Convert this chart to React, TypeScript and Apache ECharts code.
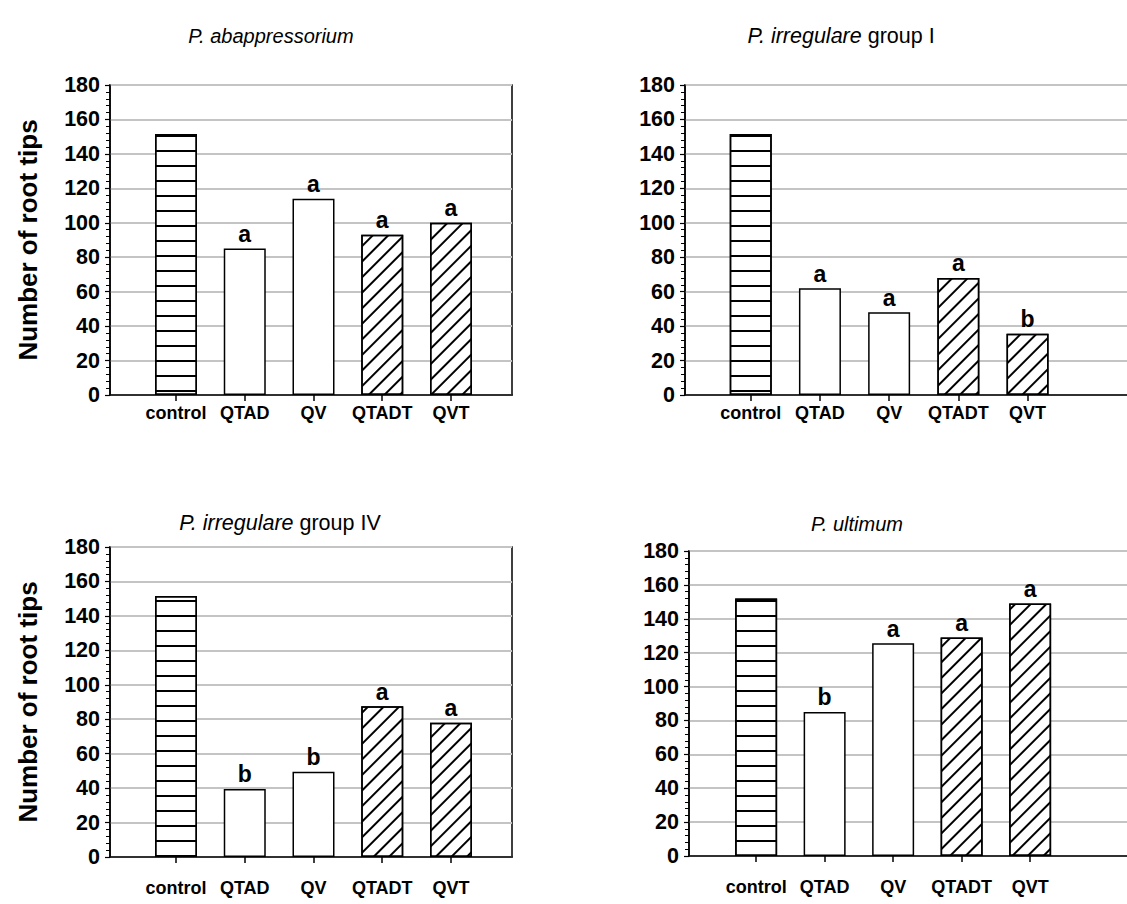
import React, { useEffect, useRef } from "react";
import * as echarts from "echarts";

const categories = ["control", "QTAD", "QV", "QTADT", "QVT"];
const positions = [1, 2, 3, 4, 5];
const valuesAbap = [151.5, 85, 114, 93, 100];
const valuesIrrI = [151.5, 62, 48, 68, 35.5];
const valuesIrrIV = [151.5, 39.5, 49.5, 87.5, 78];
const valuesUlt = [152, 85, 125.5, 129, 149];
const lettersAbap = ["", "a", "a", "a", "a"];
const lettersIrrI = ["", "a", "a", "a", "b"];
const lettersIrrIV = ["", "b", "b", "a", "a"];
const lettersUlt = ["", "b", "a", "a", "a"];
const patterns = ["horizontal", "none", "none", "diagonal", "diagonal"];
const yMin = 0;
const yMax = 180;
const yInterval = 20;

const FONT = "'Liberation Sans', Arial, sans-serif";

const hDecal = {
  symbol: "rect",
  symbolSize: 1,
  color: "#000",
  backgroundColor: "#fff",
  dashArrayX: [1, 0],
  dashArrayY: [1.3, 12.1],
  rotation: 0,
};
const dDecal = {
  symbol: "rect",
  symbolSize: 1,
  color: "#000",
  backgroundColor: "#fff",
  dashArrayX: [1, 0],
  dashArrayY: [1.1, 8.3],
  rotation: -Math.PI / 4,
};

const panels = [
  { values: valuesAbap, letters: lettersAbap, grid: { left: 110, top: 85, width: 402, height: 310 }, xMin: 0.04, spacing: 68.75, yName: true, labelMargin: 9 },
  { values: valuesIrrI, letters: lettersIrrI, grid: { left: 685, top: 85, width: 480, height: 310 }, xMin: 0.05, spacing: 69.2, yName: false, labelMargin: 9 },
  { values: valuesIrrIV, letters: lettersIrrIV, grid: { left: 110, top: 547, width: 402, height: 310 }, xMin: 0.04, spacing: 68.75, yName: true, labelMargin: 22 },
  { values: valuesUlt, letters: lettersUlt, grid: { left: 689, top: 551, width: 480, height: 305 }, xMin: 0.02, spacing: 68.5, yName: false, labelMargin: 22 },
];

export default function App() {
  const ref = useRef<HTMLDivElement>(null);
  useEffect(() => {
    if (!ref.current) return;
    const chart = echarts.init(ref.current, null, { renderer: "svg" });
    const grids: any[] = [];
    const xAxes: any[] = [];
    const yAxes: any[] = [];
    const series: any[] = [];
    panels.forEach((p, i) => {
      grids.push({
        ...p.grid,
        outerBoundsMode: "none",
        containLabel: false,
        show: true,
        borderColor: "#000",
        borderWidth: 1.5,
        backgroundColor: "transparent",
      });
      xAxes.push({
        type: "value",
        gridIndex: i,
        min: p.xMin,
        max: p.xMin + p.grid.width / p.spacing,
        splitLine: { show: false },
        axisLine: { show: true, onZero: false, lineStyle: { color: "#000", width: 1.5 } },
        axisTick: { show: true, customValues: positions, length: 6, lineStyle: { color: "#000", width: 1.5 } },
        axisLabel: {
          customValues: positions,
          formatter: (v: number) => categories[Math.round(v) - 1] ?? "",
          color: "#000",
          fontWeight: "bold",
          fontSize: 18,
          fontFamily: FONT,
          margin: p.labelMargin,
        },
      });
      yAxes.push({
        type: "value",
        gridIndex: i,
        min: yMin,
        max: yMax,
        interval: yInterval,
        name: p.yName ? "Number of root tips" : "",
        nameLocation: "middle",
        nameGap: 69,
        nameTextStyle: { color: "#000", fontWeight: "bold", fontSize: 26, fontFamily: FONT },
        axisLine: { show: true, lineStyle: { color: "#000", width: 1.5 } },
        axisTick: { show: true, length: 5, lineStyle: { color: "#000", width: 1.2 } },
        minorTick: { show: true, splitNumber: 5, length: 4, lineStyle: { color: "#000", width: 1 } },
        splitLine: { show: true, lineStyle: { color: "#c4c4c4", width: 2 } },
        axisLabel: { color: "#000", fontWeight: "bold", fontSize: 21.5, fontFamily: FONT, margin: 10 },
      });
      series.push({
        type: "bar",
        xAxisIndex: i,
        yAxisIndex: i,
        barWidth: 42,
        data: p.values.map((v, k) => ({
          value: [positions[k], v],
          itemStyle: {
            color: "#fff",
            borderColor: "#000",
            borderWidth: 1.5,
            decal: patterns[k] === "horizontal" ? hDecal : patterns[k] === "diagonal" ? dDecal : undefined,
          },
        })),
        label: {
          show: true,
          position: "top",
          distance: 3,
          formatter: (d: any) => p.letters[d.dataIndex],
          color: "#000",
          fontSize: 23,
          fontWeight: "bold",
          fontFamily: FONT,
        },
      });
    });

    const titleStyle = { fill: "#000", fontSize: 20, fontFamily: FONT, textAlign: "center", textVerticalAlign: "middle" };
    const bigTitle = { ...titleStyle, fontSize: 21.5 };
    const graphic = [
      { type: "text", x: 271, y: 36, style: { ...titleStyle, text: "P. abappressorium", fontStyle: "italic" } },
      {
        type: "text", x: 841, y: 36,
        style: { ...bigTitle, text: "{i|P. irregulare} group I", rich: { i: { fontStyle: "italic", fontSize: 21.5, fontFamily: FONT } } },
      },
      {
        type: "text", x: 280, y: 523,
        style: { ...bigTitle, text: "{i|P. irregulare} group IV", rich: { i: { fontStyle: "italic", fontSize: 21.5, fontFamily: FONT } } },
      },
      { type: "text", x: 857, y: 524, style: { ...titleStyle, text: "P. ultimum", fontStyle: "italic" } },
    ];

    chart.setOption({
      animation: false,
      backgroundColor: "#fff",
      grid: grids,
      xAxis: xAxes,
      yAxis: yAxes,
      series,
      graphic,
    });
    return () => chart.dispose();
  }, []);
  return <div ref={ref} style={{ position: "absolute", left: 0, top: 0, width: 1127, height: 904 }} />;
}
